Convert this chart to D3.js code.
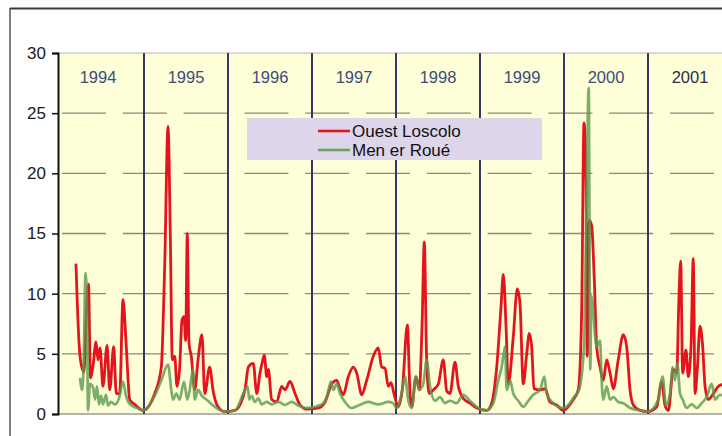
<!DOCTYPE html>
<html>
<head>
<meta charset="utf-8">
<script src="https://cdn.jsdelivr.net/npm/d3@7/dist/d3.min.js"></script>
<style>
  html, body { margin: 0; padding: 0; background: #ffffff; }
  svg { display: block; }
  text { font-family: Arial, "Liberation Sans", Helvetica, sans-serif; }
</style>
</head>
<body>
<svg id="chart" width="722" height="436"></svg>
<script>
// Seasons shown as labelled columns
const years = [1994, 1995, 1996, 1997, 1998, 1999, 2000, 2001];
const yTicks = [0, 5, 10, 15, 20, 25, 30];
const seriesNames = ["Ouest Loscolo", "Men er Roué"];

// Ouest Loscolo: [decimal year, value]
const ouestLoscolo = [
  [1994.190, 12.5], [1994.226, 6.0], [1994.250, 4.2], [1994.286, 3.5], [1994.310, 8.0],
  [1994.339, 10.8], [1994.363, 3.0], [1994.393, 4.0], [1994.429, 6.0], [1994.452, 4.5],
  [1994.476, 5.5], [1994.512, 2.3], [1994.560, 5.7], [1994.592, 2.0], [1994.639, 5.6],
  [1994.670, 1.7], [1994.711, 1.7], [1994.750, 9.5], [1994.786, 6.0], [1994.830, 1.2],
  [1994.889, 0.8], [1994.988, 0.3],
  [1995.127, 1.7], [1995.206, 3.9], [1995.246, 12.2], [1995.286, 23.9], [1995.313, 15.0],
  [1995.337, 4.5], [1995.365, 4.8], [1995.393, 2.3], [1995.425, 3.9], [1995.452, 7.8],
  [1995.476, 8.1], [1995.496, 6.1], [1995.515, 15.0], [1995.536, 5.9], [1995.563, 4.8],
  [1995.604, 2.0], [1995.643, 4.5], [1995.690, 6.6], [1995.723, 1.7], [1995.782, 3.9],
  [1995.821, 2.0], [1995.881, 0.6], [1995.961, 0.2],
  [1996.083, 0.3], [1996.202, 2.0], [1996.242, 3.9], [1996.301, 4.2], [1996.342, 1.7],
  [1996.381, 3.4], [1996.408, 4.3], [1996.432, 4.9], [1996.461, 3.1], [1996.480, 3.7],
  [1996.520, 1.2], [1996.580, 1.0], [1996.639, 2.3], [1996.679, 2.0], [1996.738, 2.7],
  [1996.798, 1.7], [1996.857, 0.75], [1996.937, 0.4],
  [1997.075, 0.5], [1997.155, 1.0], [1997.235, 2.5], [1997.294, 2.8], [1997.333, 2.1],
  [1997.373, 1.6], [1997.432, 3.1], [1997.492, 3.9], [1997.532, 3.4], [1997.592, 1.6],
  [1997.651, 2.8], [1997.730, 4.8], [1997.789, 5.5], [1997.830, 3.9], [1997.869, 3.8],
  [1997.908, 2.3], [1997.940, 2.6], [1997.976, 1.7],
  [1998.027, 0.6], [1998.079, 2.3], [1998.135, 7.4], [1998.167, 1.7], [1998.187, 0.6],
  [1998.238, 3.1], [1998.277, 2.0], [1998.310, 7.3], [1998.337, 14.3], [1998.365, 4.5],
  [1998.396, 1.7], [1998.444, 2.0], [1998.504, 2.5], [1998.563, 4.5], [1998.604, 1.9],
  [1998.643, 1.7], [1998.702, 4.3], [1998.742, 2.3], [1998.801, 1.3], [1998.881, 0.9],
  [1998.960, 0.5],
  [1999.080, 0.3], [1999.139, 0.9], [1999.199, 3.9], [1999.250, 8.9], [1999.277, 11.6],
  [1999.310, 7.3], [1999.337, 2.5], [1999.396, 6.4], [1999.444, 10.4], [1999.476, 9.2],
  [1999.515, 2.5], [1999.556, 5.0], [1999.587, 6.7], [1999.615, 5.6], [1999.643, 2.1],
  [1999.714, 2.0], [1999.774, 2.1], [1999.833, 1.0], [1999.913, 0.75], [1999.992, 0.3],
  [2000.111, 1.2], [2000.170, 2.0], [2000.210, 8.4], [2000.238, 24.2], [2000.262, 19.4],
  [2000.277, 4.8], [2000.301, 16.1], [2000.330, 15.6], [2000.361, 11.1], [2000.389, 5.6],
  [2000.429, 3.9], [2000.468, 2.8], [2000.508, 4.5], [2000.548, 3.4], [2000.587, 2.1],
  [2000.646, 4.5], [2000.706, 6.6], [2000.746, 5.6], [2000.786, 2.0], [2000.825, 0.75],
  [2000.905, 0.3], [2001.000, 0.2],
  [2001.104, 0.6], [2001.163, 2.7], [2001.202, 0.75], [2001.242, 0.3], [2001.301, 3.7],
  [2001.342, 3.4], [2001.369, 9.8], [2001.389, 12.7], [2001.413, 3.4], [2001.452, 5.3],
  [2001.480, 3.1], [2001.512, 5.6], [2001.539, 12.9], [2001.560, 1.7], [2001.587, 3.7],
  [2001.619, 7.3], [2001.651, 5.6], [2001.679, 2.3], [2001.718, 1.2], [2001.778, 1.7],
  [2001.837, 2.3], [2001.905, 2.5]
];

// Men er Roué: [decimal year, value]
const menErRoue = [
  [1994.238, 3.0], [1994.262, 2.0], [1994.280, 3.8], [1994.304, 11.7], [1994.321, 9.0],
  [1994.333, 0.3], [1994.357, 2.5], [1994.393, 2.2], [1994.417, 1.2], [1994.440, 2.3],
  [1994.464, 0.8], [1994.488, 1.5], [1994.512, 0.8], [1994.548, 1.6], [1994.571, 0.7],
  [1994.607, 1.0], [1994.655, 0.8], [1994.702, 1.3], [1994.750, 2.7], [1994.786, 1.5],
  [1994.833, 0.8], [1994.917, 0.5], [1994.988, 0.3],
  [1995.127, 1.5], [1995.206, 2.8], [1995.286, 4.1], [1995.325, 2.0], [1995.345, 1.2],
  [1995.385, 1.7], [1995.425, 1.2], [1995.476, 2.7], [1995.515, 1.2], [1995.544, 2.0],
  [1995.583, 3.7], [1995.604, 1.2], [1995.643, 2.0], [1995.690, 1.5], [1995.742, 1.2],
  [1995.842, 0.6], [1995.961, 0.2],
  [1996.083, 0.3], [1996.202, 2.0], [1996.234, 2.3], [1996.253, 1.2], [1996.282, 1.5],
  [1996.321, 1.0], [1996.361, 1.3], [1996.401, 0.8], [1996.461, 1.0], [1996.520, 0.8],
  [1996.599, 1.0], [1996.679, 0.75], [1996.758, 1.0], [1996.837, 0.7], [1996.937, 0.5],
  [1997.115, 0.8], [1997.175, 1.4], [1997.226, 2.7], [1997.254, 2.0], [1997.294, 2.5],
  [1997.333, 1.7], [1997.393, 1.0], [1997.472, 0.5], [1997.551, 0.7], [1997.670, 1.0],
  [1997.789, 0.8], [1997.908, 1.0], [1997.964, 0.9],
  [1998.008, 0.5], [1998.067, 1.7], [1998.107, 3.1], [1998.147, 1.1], [1998.187, 0.5],
  [1998.238, 3.1], [1998.277, 2.0], [1998.325, 2.5], [1998.365, 4.5], [1998.405, 2.3],
  [1998.464, 1.1], [1998.524, 1.4], [1998.583, 0.9], [1998.643, 1.1], [1998.722, 0.9],
  [1998.801, 1.6], [1998.881, 1.1], [1998.960, 0.6],
  [1999.080, 0.3], [1999.159, 0.9], [1999.218, 2.8], [1999.258, 3.9], [1999.298, 5.6],
  [1999.318, 2.0], [1999.357, 2.8], [1999.396, 1.7], [1999.456, 1.1], [1999.515, 0.6],
  [1999.575, 1.1], [1999.635, 1.6], [1999.714, 2.0], [1999.766, 3.1], [1999.794, 1.7],
  [1999.873, 0.9], [1999.992, 0.5],
  [2000.051, 0.75], [2000.119, 1.4], [2000.179, 2.0], [2000.238, 5.6], [2000.266, 16.7],
  [2000.294, 27.1], [2000.313, 3.7], [2000.325, 9.8], [2000.389, 5.6], [2000.429, 6.1],
  [2000.448, 2.8], [2000.468, 1.2], [2000.508, 2.3], [2000.548, 1.2], [2000.587, 1.4],
  [2000.646, 1.0], [2000.706, 0.9], [2000.786, 0.5], [2000.905, 0.3], [2001.000, 0.2],
  [2001.123, 1.2], [2001.175, 3.1], [2001.214, 0.7], [2001.262, 1.7], [2001.294, 3.9],
  [2001.321, 2.8], [2001.349, 4.2], [2001.381, 1.7], [2001.413, 1.2], [2001.460, 0.5],
  [2001.520, 0.8], [2001.580, 0.5], [2001.639, 0.9], [2001.698, 1.4], [2001.758, 2.5],
  [2001.798, 1.2], [2001.857, 1.6], [2001.917, 1.4]
];

const W = 722, H = 436;
const plot = { left: 58, top: 53, right: 722, bottom: 414 };

const svg = d3.select("#chart");

// Outer frame strokes (top and left)
svg.append("line").attr("x1", 10).attr("x2", W).attr("y1", 8.5).attr("y2", 8.5)
  .attr("stroke", "#3a3a3a").attr("stroke-width", 2);
svg.append("line").attr("x1", 10).attr("x2", 10).attr("y1", 8).attr("y2", H)
  .attr("stroke", "#555").attr("stroke-width", 1.5);

const x = d3.scaleLinear().domain([1994, 2002]).range([60, 732]);
const y = d3.scaleLinear().domain([0, 30]).range([plot.bottom, plot.top]);

// Plot background
svg.append("rect")
  .attr("x", plot.left).attr("y", plot.top)
  .attr("width", plot.right - plot.left).attr("height", plot.bottom - plot.top)
  .attr("fill", "#fefed8");

svg.append("defs").append("clipPath").attr("id", "plotClip")
  .append("rect")
  .attr("x", plot.left).attr("y", plot.top - 2)
  .attr("width", plot.right - plot.left).attr("height", plot.bottom - plot.top + 2);

// Dashed horizontal gridlines
svg.append("g").selectAll("line")
  .data(yTicks.filter(d => d > 0 && d < 30))
  .join("line")
  .attr("x1", 62).attr("x2", plot.right)
  .attr("y1", d => y(d)).attr("y2", d => y(d))
  .attr("stroke", "#8a8a80").attr("stroke-width", 1.4)
  .attr("stroke-dasharray", "44,16.8");

// Top border and baseline
svg.append("line").attr("x1", plot.left).attr("x2", plot.right)
  .attr("y1", plot.top).attr("y2", plot.top)
  .attr("stroke", "#b8b8b8").attr("stroke-width", 1);
svg.append("line").attr("x1", plot.left).attr("x2", plot.right)
  .attr("y1", plot.bottom).attr("y2", plot.bottom)
  .attr("stroke", "#9a9a9a").attr("stroke-width", 1.3);

// Year separators
svg.append("g").selectAll("line")
  .data(years.slice(1))
  .join("line")
  .attr("x1", d => x(d)).attr("x2", d => x(d))
  .attr("y1", plot.top).attr("y2", plot.bottom)
  .attr("stroke", "#2b3160").attr("stroke-width", 1.9);

// Year labels
svg.append("g").selectAll("text")
  .data(years)
  .join("text")
  .attr("x", d => x(d + 0.5) - (d === 1994 ? 4 : 0))
  .attr("y", 83)
  .attr("text-anchor", "middle")
  .attr("font-size", 16.5)
  .attr("fill", d => d === 2001 ? "#2a2f45" : "#3c4c7c")
  .text(d => d);

// Y axis
const yAxis = d3.axisLeft(y).tickValues(yTicks).tickSize(6).tickPadding(6);
const gy = svg.append("g").attr("transform", `translate(${plot.left},0)`).call(yAxis);
gy.select(".domain").attr("stroke", "#111").attr("stroke-width", 2);
gy.selectAll(".tick line").attr("stroke", "#111").attr("stroke-width", 1.5);
gy.selectAll(".tick text")
  .attr("font-size", 17)
  .attr("fill", "#1a1a1a")
  .style("font-family", "Arial, 'Liberation Sans', sans-serif");

// Data lines
const line = d3.line()
  .x(d => x(d[0]))
  .y(d => y(d[1]))
  .curve(d3.curveMonotoneX);

const lines = svg.append("g").attr("clip-path", "url(#plotClip)");
lines.append("path")
  .datum(ouestLoscolo)
  .attr("d", line)
  .attr("fill", "none")
  .attr("stroke", "#e3141c")
  .attr("stroke-width", 2.8)
  .attr("stroke-linejoin", "round");
lines.append("path")
  .datum(menErRoue)
  .attr("d", line)
  .attr("fill", "none")
  .attr("stroke", "#5b9a4e")
  .attr("stroke-opacity", 0.8)
  .attr("stroke-width", 2.7)
  .attr("stroke-linejoin", "round");

// Legend
const legend = svg.append("g");
legend.append("rect")
  .attr("x", 247).attr("y", 118).attr("width", 295).attr("height", 42)
  .attr("fill", "#ddd5ea");
const legendColors = ["#e3141c", "#6fa262"];
seriesNames.forEach((name, i) => {
  const ly = 131 + i * 19;
  legend.append("line")
    .attr("x1", 318).attr("x2", 350).attr("y1", ly).attr("y2", ly)
    .attr("stroke", legendColors[i]).attr("stroke-width", 2.6);
  legend.append("text")
    .attr("x", 352).attr("y", ly + 6)
    .attr("font-size", 17)
    .attr("fill", "#111")
    .text(name);
});
</script>
</body>
</html>
